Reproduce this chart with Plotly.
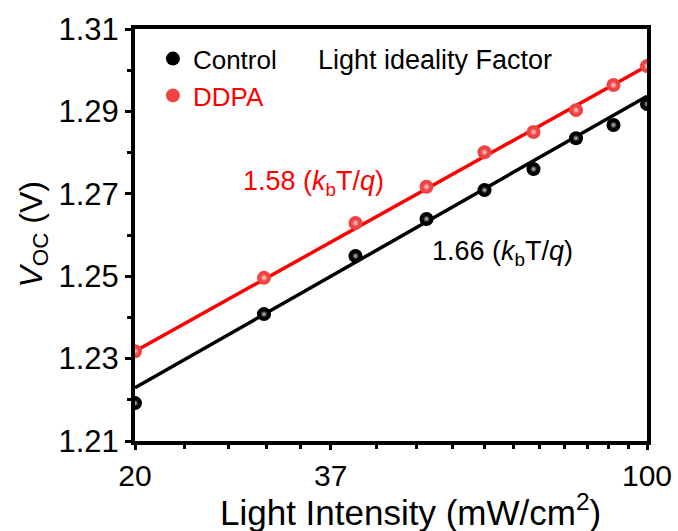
import numpy as np
import plotly.graph_objects as go

# ---- data ----
intensity = [20, 30, 40, 50, 60, 70, 80, 90, 100]
voc_control = [1.2192, 1.2408, 1.2549, 1.2639, 1.2709, 1.2760, 1.2835, 1.2867, 1.2918]
voc_ddpa = [1.2318, 1.2496, 1.2629, 1.2717, 1.2801, 1.2850, 1.2903, 1.2964, 1.3010]

fit_x = [20, 100]
fit_control = [1.2229, 1.2937]
fit_ddpa = [1.2318, 1.3010]

x_tickvals = [20, 37, 100]
x_ticktext = ["20", "37", "100"]
y_tickvals = [1.21, 1.23, 1.25, 1.27, 1.29, 1.31]
y_ticktext = ["1.21", "1.23", "1.25", "1.27", "1.29", "1.31"]

# minor tick positions (Origin style: 5 steps 20->37, 11 steps 37->100)
x_minor = [20 + k * (37 - 20) / 5 for k in range(1, 5)] + [37 + k * (100 - 37) / 11 for k in range(1, 11)]

FONT = "Liberation Sans, Arial, sans-serif"
RED = "#ff0000"
RED_DOT = "#f04444"

fig = go.Figure()

# fit lines
fig.add_trace(go.Scatter(x=fit_x, y=fit_control, mode="lines",
                         line=dict(color="black", width=3.5), showlegend=False, hoverinfo="skip"))
fig.add_trace(go.Scatter(x=fit_x, y=fit_ddpa, mode="lines",
                         line=dict(color=RED, width=3.5), showlegend=False, hoverinfo="skip"))

# markers
fig.add_trace(go.Scatter(x=intensity, y=voc_control, mode="markers", name="Control",
                         marker=dict(color="black", size=14, line=dict(width=0))))
fig.add_trace(go.Scatter(x=intensity, y=voc_ddpa, mode="markers",
                         name="<span style='color:#ff0000'>DDPA</span>",
                         marker=dict(color=RED_DOT, size=14, line=dict(width=0))))
# sphere highlights
fig.add_trace(go.Scatter(x=intensity, y=voc_control, mode="markers", showlegend=False, hoverinfo="skip",
                         marker=dict(color="black", size=7, line=dict(width=0),
                                     gradient=dict(type="radial", color="#c8c8c8"))))
fig.add_trace(go.Scatter(x=intensity, y=voc_ddpa, mode="markers", showlegend=False, hoverinfo="skip",
                         marker=dict(color=RED_DOT, size=7, line=dict(width=0),
                                     gradient=dict(type="radial", color="#ffdede"))))

fig.add_annotation(text="Light ideality Factor", xref="paper", yref="paper", x=0.586, y=0.925,
                   xanchor="center", yanchor="middle",
                   showarrow=False, font=dict(size=27, color="black", family=FONT))
fig.add_annotation(text="1.58 (<i>k</i><sub>b</sub>T/<i>q</i>)", xref="paper", yref="paper",
                   x=0.348, y=0.626, xanchor="center", yanchor="middle",
                   showarrow=False, font=dict(size=27, color=RED, family=FONT))
fig.add_annotation(text="1.66 (<i>k</i><sub>b</sub>T/<i>q</i>)", xref="paper", yref="paper",
                   x=0.717, y=0.456, xanchor="center", yanchor="middle",
                   showarrow=False, font=dict(size=27, color="black", family=FONT))
# axis titles (placed as in the reference)
fig.add_annotation(text="Light Intensity (mW/cm<sup>2</sup>)", xref="paper", yref="paper",
                   x=0.539, y=-0.167, xanchor="center", yanchor="middle",
                   showarrow=False, font=dict(size=35, color="black", family=FONT))
fig.add_annotation(text="<i>V</i><sub>OC</sub> (V)", xref="paper", yref="paper",
                   x=-0.2, y=0.5, xanchor="center", yanchor="middle", textangle=-90,
                   showarrow=False, font=dict(size=32, color="black", family=FONT))

fig.update_layout(
    width=678, height=531,
    margin=dict(l=135, r=31, t=29, b=90, autoexpand=False),
    paper_bgcolor="white", plot_bgcolor="white",
    font=dict(family=FONT, color="black"),
    legend=dict(x=0.035, y=0.985, xanchor="left", yanchor="top",
                bgcolor="rgba(0,0,0,0)", font=dict(size=26, family=FONT),
                tracegroupgap=0, itemsizing="trace", itemwidth=30),
)
fig.update_xaxes(
    type="log", range=[np.log10(20), 2], automargin=False,
    tickmode="array", tickvals=x_tickvals, ticktext=x_ticktext,
    ticks="outside", ticklen=5, tickwidth=3, tickcolor="black",
    tickfont=dict(size=30, family=FONT),
    showline=True, linewidth=4, linecolor="black", mirror=True,
    showgrid=False, zeroline=False,
    minor=dict(tickmode="array", tickvals=x_minor, ticks="outside", ticklen=4, tickwidth=3,
               tickcolor="black", showgrid=False),
)
fig.update_yaxes(
    range=[1.21, 1.31], automargin=False,
    tickmode="array", tickvals=y_tickvals, ticktext=y_ticktext,
    ticks="outside", ticklen=6, tickwidth=3, tickcolor="black",
    tickfont=dict(size=31, family=FONT),
    showline=True, linewidth=4, linecolor="black", mirror=True,
    showgrid=False, zeroline=False,
    minor=dict(tickmode="linear", tick0=1.21, dtick=0.01, ticks="outside", ticklen=4, tickwidth=3,
               tickcolor="black", showgrid=False),
)

fig.write_html("out.html")
